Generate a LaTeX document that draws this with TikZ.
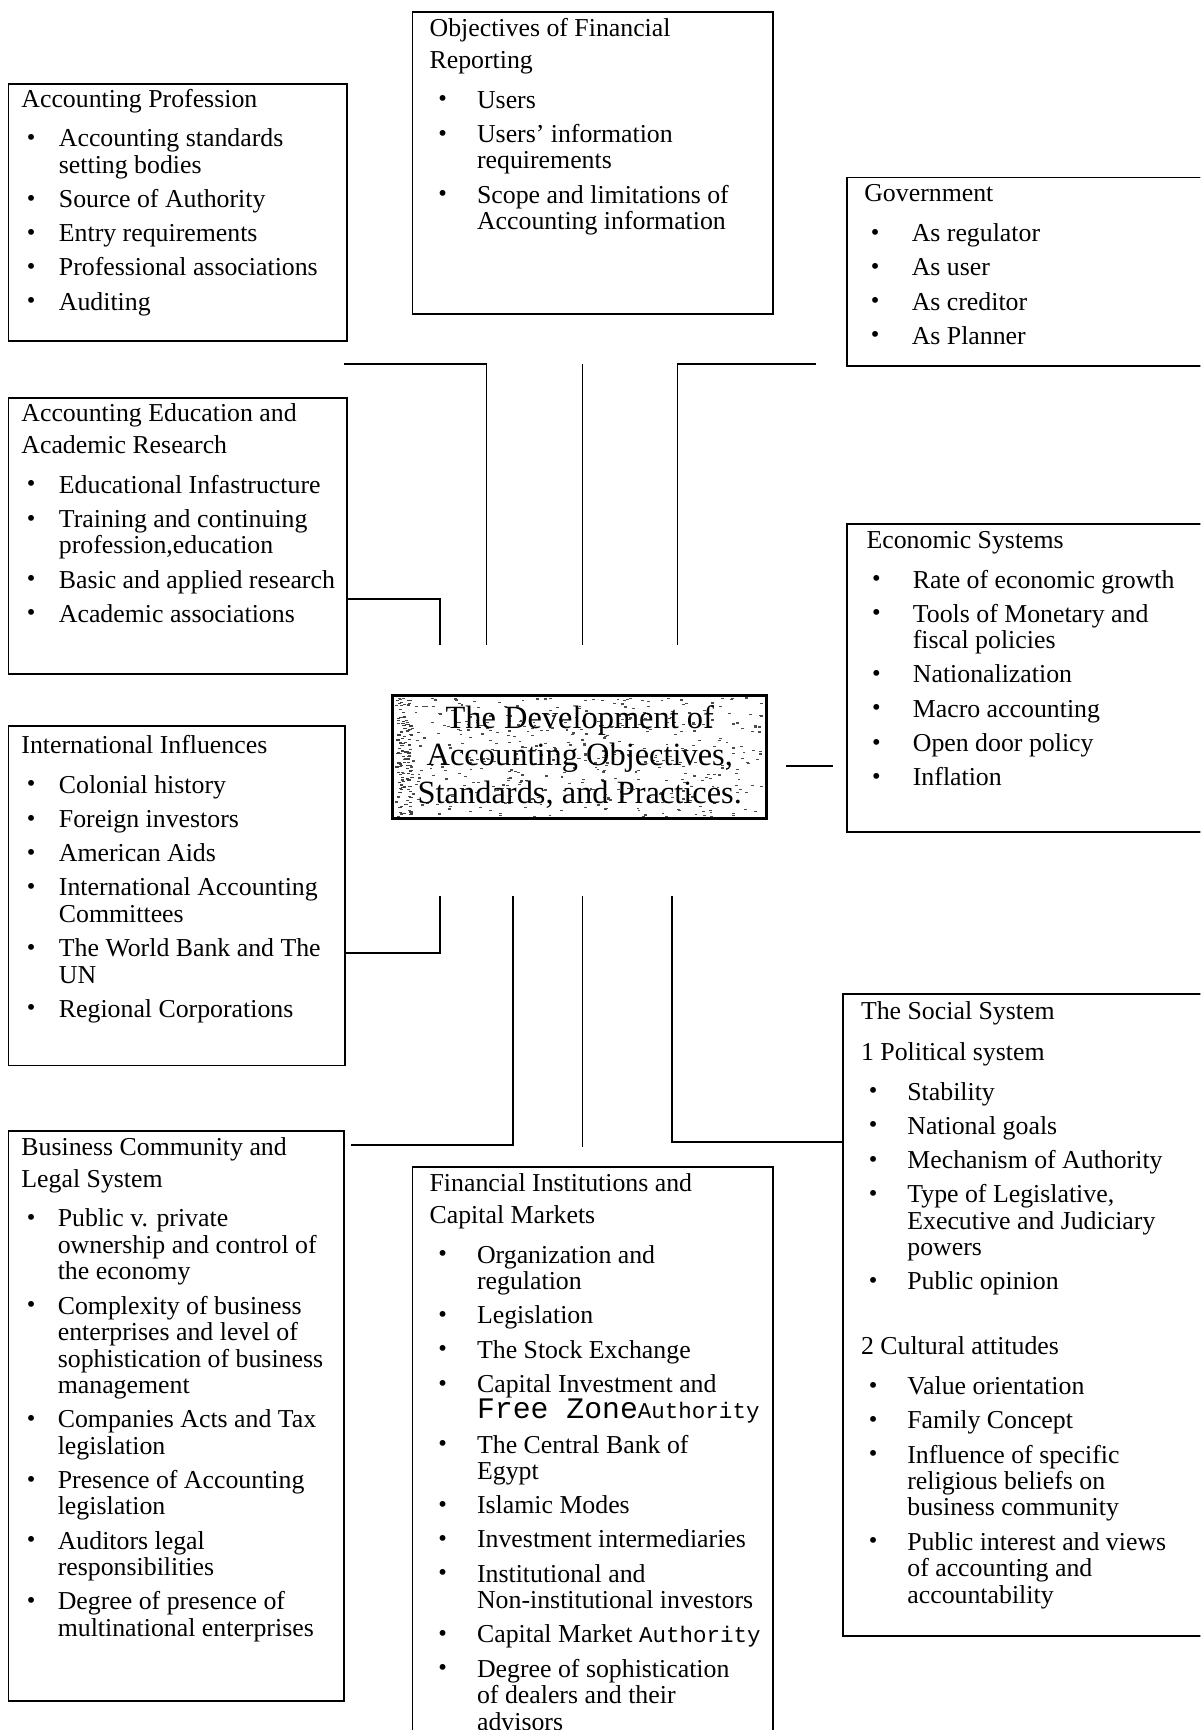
\documentclass[tikz,border=0pt]{standalone}
\usepackage{fontspec}
\setmainfont{Liberation Serif}
\newfontfamily\monofam{Liberation Mono}
\usetikzlibrary{backgrounds}

% indentation of the bullet and of the item text inside a panel
\newlength\bltoff
\newlength\txtoff
\newcommand\dotb{\raisebox{0.6pt}{\scalebox{0.95}{\textbullet}}}
\newcommand\brk{\newline}
% panel body: #1 bullet offset, #2 text offset, #3 content
\newcommand\panelbody[3]{\parbox[t]{185pt}{\fontsize{11.7pt}{12pt}\selectfont
  \lineskiplimit=-20pt\lineskip=0pt\parskip=0pt\raggedright
  \setlength\bltoff{#1}\setlength\txtoff{#2}#3}}
\newcommand\hd[1]{#1\par\vspace{2.5pt}}
\newcommand\itm[1]{\par\vspace{3.5pt}\hangindent=\txtoff\hangafter=1\noindent
  \makebox[\txtoff][l]{\hspace*{\bltoff}\dotb}#1}
\newcommand\bigmono[1]{{\monofam\fontsize{13.5pt}{12pt}\selectfont #1}}
\newcommand\smallmono[1]{{\monofam\fontsize{10.2pt}{12pt}\selectfont #1}}

\begin{document}
\begin{tikzpicture}[x=0.5pt,y=-0.5pt,
  panel/.style={draw, line width=0.8pt, inner sep=0pt, anchor=north west},
  body/.style={inner sep=0pt, anchor=base west},
  link/.style={line width=0.8pt},
  centerbox/.style={draw, line width=1.3pt, inner sep=0pt, align=center,
    font=\fontsize{14.7pt}{17pt}\selectfont}]
\useasboundingbox (0,0) rectangle (1088,1568);
\clip (0,0) rectangle (1088,1568);

% ---------- panels ----------
\node[panel, minimum width=153.5pt, minimum height=116.5pt] (ap) at (7,75) {};
\node[body] (ap-t) at (19,97) {\panelbody{2.5pt}{17pt}{%
  \hd{Accounting Profession}%
  \itm{Accounting standards\brk setting bodies}%
  \itm{Source of Authority}%
  \itm{Entry requirements}%
  \itm{Professional associations}%
  \itm{Auditing}}};

\node[panel, minimum width=163.5pt, minimum height=137pt] (obj) at (373,10) {};
\node[body] (obj-t) at (389,33) {\panelbody{4pt}{21.5pt}{%
  \hd{Objectives of Financial}%
  \hd{Reporting}%
  \itm{Users}%
  \itm{Users’ information\brk requirements}%
  \itm{Scope and limitations of\brk Accounting information}}};

\node[panel, minimum width=164pt, minimum height=85.5pt] (gov) at (767,160) {};
\node[body] (gov-t) at (783,183) {\panelbody{3pt}{21.5pt}{%
  \hd{Government}%
  \itm{As regulator}%
  \itm{As user}%
  \itm{As creditor}%
  \itm{As Planner}}};

\node[panel, minimum width=153.5pt, minimum height=125pt] (edu) at (7,360) {};
\node[body] (edu-t) at (19,382) {\panelbody{2.5pt}{17pt}{%
  \hd{Accounting Education and}%
  \hd{Academic Research}%
  \itm{Educational Infastructure}%
  \itm{Training and continuing\brk profession,education}%
  \itm{Basic and applied research}%
  \itm{Academic associations}}};

\node[panel, minimum width=164pt, minimum height=139.5pt] (econ) at (767,474) {};
\node[body] (econ-t) at (785,497) {\panelbody{2.5pt}{21pt}{%
  \hd{Economic Systems}%
  \itm{Rate of economic growth}%
  \itm{Tools of Monetary and\brk fiscal policies}%
  \itm{Nationalization}%
  \itm{Macro accounting}%
  \itm{Open door policy}%
  \itm{Inflation}}};

\node[panel, minimum width=152.5pt, minimum height=154pt] (intl) at (7,657) {};
\node[body] (intl-t) at (19,683) {\panelbody{2.5pt}{17pt}{%
  \hd{International Influences}%
  \itm{Colonial history}%
  \itm{Foreign investors}%
  \itm{American Aids}%
  \itm{International Accounting\brk Committees}%
  \itm{The World Bank and The\brk UN}%
  \itm{Regional Corporations}}};

\node[panel, minimum width=152pt, minimum height=258.5pt] (bus) at (7,1024) {};
\node[body] (bus-t) at (19,1047) {\panelbody{2.5pt}{16.5pt}{%
  \hd{Business Community and}%
  \hd{Legal System}%
  \itm{Public v. private\brk ownership and control of\brk the economy}%
  \itm{Complexity of business\brk enterprises and level of\brk sophistication of business\brk management}%
  \itm{Companies Acts and Tax\brk legislation}%
  \itm{Presence of Accounting\brk legislation}%
  \itm{Auditors legal\brk responsibilities}%
  \itm{Degree of presence of\brk multinational enterprises}}};

\node[panel, minimum width=163.5pt, minimum height=261.5pt] (fin) at (373,1057) {};
\node[body] (fin-t) at (389,1080) {\panelbody{4pt}{21.5pt}{%
  \hd{Financial Institutions and}%
  \hd{Capital Markets}%
  \itm{Organization and\brk regulation}%
  \itm{Legislation}%
  \itm{The Stock Exchange}%
  \itm{Capital Investment and\brk \bigmono{Free Zone}\smallmono{Authority}}%
  \itm{The Central Bank of\brk Egypt}%
  \itm{Islamic Modes}%
  \itm{Investment intermediaries}%
  \itm{Institutional and\brk Non-institutional investors}%
  \itm{Capital Market \smallmono{Authority}}%
  \itm{Degree of sophistication\brk of dealers and their\brk advisors}}};

\node[panel, minimum width=166pt, minimum height=291pt] (soc) at (763,900) {};
\node[body] (soc-t) at (780,924) {\panelbody{3.5pt}{21pt}{%
  The Social System\par\vspace{6.5pt}%
  \hd{1 Political system}%
  \itm{Stability}%
  \itm{National goals}%
  \itm{Mechanism of Authority}%
  \itm{Type of Legislative,\brk Executive and Judiciary\brk powers}%
  \itm{Public opinion}\par\vspace{17.5pt}%
  \hd{2 Cultural attitudes}%
  \itm{Value orientation}%
  \itm{Family Concept}%
  \itm{Influence of specific\brk religious beliefs on\brk business community}%
  \itm{Public interest and views\brk of accounting and\brk accountability}}};

% ---------- central box ----------
\node[centerbox, minimum width=169.5pt, minimum height=56pt] (center) at (525.5,686)
  {The Development of\\Accounting Objectives,\\Standards, and Practices.};
\begin{scope}[on background layer]
  \pgfmathsetseed{11}
  \foreach \i in {1,...,480}{
    \pgfmathsetmacro\rx{358+334*rnd}
    \pgfmathsetmacro\ry{632+108*rnd}
    \fill[black!70] (\rx,\ry) rectangle ++(2.6,1.1);
  }
  \foreach \i in {1,...,90}{
    \pgfmathsetmacro\rx{358+14*rnd}
    \pgfmathsetmacro\ry{632+108*rnd}
    \fill[black!75] (\rx,\ry) rectangle ++(3,1.2);
  }
\end{scope}

% ---------- connectors above the centre ----------
\coordinate (a1) at (312,330);
\coordinate (a2) at (441,585);
\draw[link] (a1) -| (a2);
\coordinate (b1) at (528,330);
\coordinate (b2) at (528,585);
\draw[link] (b1) -- (b2);
\coordinate (c1) at (740,330);
\coordinate (c2) at (614,585);
\draw[link] (c1) -| (c2);
\coordinate (d1) at (399,543);
\coordinate (d2) at (399,585);
\draw[link] (edu.east |- d1) -- (d1) -- (d2);

% ---------- centre to economic systems ----------
\coordinate (e1) at (0,694);
\draw[link, shorten <=8pt, shorten >=6pt] (center.east |- e1) -- (econ.west |- e1);

% ---------- connectors below the centre ----------
\coordinate (f1) at (399,864);
\coordinate (f2) at (399,812);
\draw[link] (intl.east |- f1) -- (f1) -- (f2);
\coordinate (g1) at (318,1038);
\coordinate (g2) at (465,812);
\draw[link] (g1) -| (g2);
\coordinate (h1) at (528,812);
\coordinate (h2) at (528,1040);
\draw[link] (h1) -- (h2);
\coordinate (k1) at (609,812);
\coordinate (k2) at (0,1035);
\draw[link] (k1) |- (soc.west |- k2);
\end{tikzpicture}
\end{document}
